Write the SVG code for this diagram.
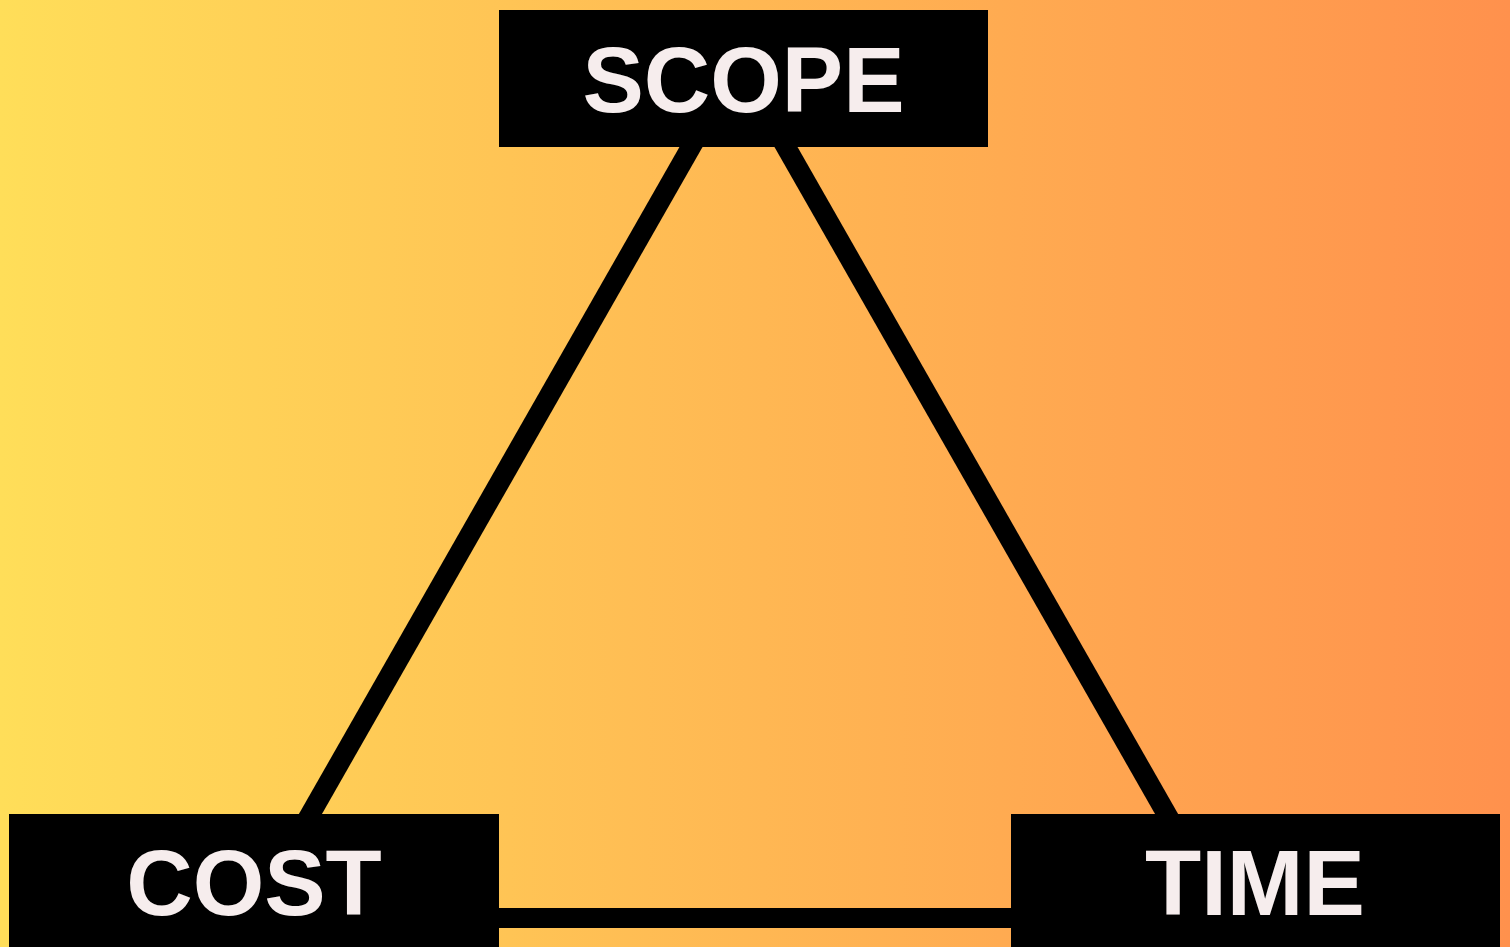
<svg xmlns="http://www.w3.org/2000/svg" width="1510" height="947" viewBox="0 0 1510 947">
  <defs>
    <linearGradient id="bg" x1="0" y1="0" x2="1" y2="0">
      <stop offset="0" stop-color="#FFDE59"/>
      <stop offset="1" stop-color="#FF914D"/>
    </linearGradient>
  </defs>
  <style>
    .box { fill: #000000; }
    .label { fill: #F6EDED; font-family: "Liberation Sans", Arial, sans-serif; font-weight: bold; font-size: 92px; text-anchor: middle; }
    .edge { stroke: #000000; stroke-width: 20; fill: none; }
  </style>
  <rect x="0" y="0" width="1510" height="947" fill="url(#bg)"/>
  <g id="connectors">
    <line class="edge" x1="695" y1="140" x2="307" y2="820"/>
    <line class="edge" x1="782" y1="140" x2="1170" y2="820"/>
    <line class="edge" x1="490" y1="918" x2="1020" y2="918"/>
  </g>
  <g id="scope">
    <rect class="box" x="499" y="10" width="489" height="137"/>
    <text class="label" x="743.5" y="112">SCOPE</text>
  </g>
  <g id="cost">
    <rect class="box" x="9" y="814" width="490" height="140"/>
    <text class="label" x="254" y="915">COST</text>
  </g>
  <g id="time">
    <rect class="box" x="1011" y="814" width="489" height="140"/>
    <text class="label" x="1255" y="915">TIME</text>
  </g>
</svg>
